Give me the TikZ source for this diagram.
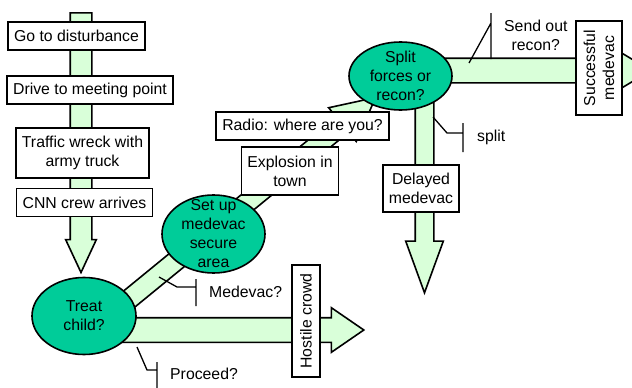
\documentclass[tikz,border=0pt]{standalone}
\usepackage{fontspec}
\setmainfont{Liberation Sans}
\usetikzlibrary{shapes.geometric,shapes.arrows,calc}
\definecolor{medgreen}{HTML}{00CC99}
\definecolor{pathgreen}{HTML}{D9FFD9}
\pgfdeclarelayer{background}
\pgfsetlayers{background,main}
% a fat arrow from one named point to another
\newcommand{\fatarrow}[3][]{%
  \path let \p1=($(#3)-(#2)$), \n1={atan2(\y1,\x1)}, \n2={veclen(\x1,\y1)} in
    (#2) node[flow,#1,minimum height=\n2,rotate=\n1,anchor=tail] {};}

\begin{document}
\begin{tikzpicture}[x=1pt,y=-1pt,
font=\fontsize{15.8pt}{19pt}\selectfont,
event/.style={
	% The shape:
	rectangle,
	% The size:
	minimum height=28pt,inner xsep=6pt,inner ysep=6pt,
	% The border:
	line width=1.6pt,draw=black,
	% The filling:
	fill=white,
	align=center},
decision/.style={
	% The shape:
	ellipse,inner sep=0pt,
	% The border:
	line width=1.6pt,draw=black,
	% The filling:
	fill=medgreen},
flow/.style={
	% the shaft is as wide as twice the inner ysep
	single arrow,inner xsep=0pt,
	line width=1.6pt,draw=black,
	fill=pathgreen},
note/.style={inner sep=0pt,anchor=west,align=center},
callout/.style={line width=1.3pt}]
\useasboundingbox (0,0) rectangle (632,388);

%Begin main column
\node (A) [event] at (76.5,36) {Go to disturbance};
\node (B) [event] at (90,90) {Drive to meeting point};
\node (C) [event,minimum height=50pt] at (82.5,153) {Traffic wreck with\\army truck};
\node (D) [event] at (84.5,202.5) {CNN crew arrives};
\node (E) [decision,minimum width=104pt,minimum height=77pt,
	label={[align=center]center:Treat\\child?}] at (84,316) {};

% the way up to the split
\node (F) [decision,minimum width=103pt,minimum height=78pt,
	label={[align=center]center:Set up\\medevac\\secure\\area}] at (213.5,234) {};
\node (G) [event,minimum height=48pt] at (290,171) {Explosion in\\town};
\node (H) [event] at (302.5,126) {Radio: where are you?};
\node (I) [decision,minimum width=103pt,minimum height=68pt,
	label={[align=center]center:Split\\forces or\\recon?}] at (400.5,76) {};

% the outcomes
\node (J) [event,rotate=90,minimum width=94pt,minimum height=46pt] at (599,68) {Successful\\medevac};
\node (K) [event,minimum height=47pt] at (421,188.5) {Delayed\\medevac};
\node (L) [event,rotate=90,minimum width=112pt] at (306,321) {Hostile crowd};

% ends of the fat arrows
\coordinate (1) at (81,12);
\coordinate (2) at ($(1 |- E.north)+(0,-5)$);
\coordinate (3) at ($(E.center)+(0,14)$);
\coordinate (4) at (363,330);
\coordinate (5) at ($(E.center)+(22,2)$);
\coordinate (6) at ($(I.center)+(-25.5,22)$);
\coordinate (7) at ($(I.center)+(0,-5.5)$);
\coordinate (8) at (650,70.5);
\coordinate (9) at ($(I.center)+(24,0)$);
\coordinate (10) at (424.5,292);

\begin{pgfonlayer}{background}
\fatarrow[inner ysep=10pt,single arrow head extend=4.5pt,single arrow tip angle=50]{1}{2}
\fatarrow[inner ysep=11.5pt,single arrow head extend=10pt,single arrow tip angle=69]{3}{4}
\fatarrow[inner ysep=9pt,single arrow head extend=12pt,single arrow tip angle=54]{5}{6}
\fatarrow[inner ysep=11.5pt,single arrow head extend=5.5pt,single arrow tip angle=62]{7}{8}
\fatarrow[inner ysep=8.5pt,single arrow head extend=9.5pt,single arrow tip angle=40]{9}{10}
\end{pgfonlayer}

% Now come the questions...
\node (a) [note] at (209,292) {Medevac?};
\node (b) [note] at (170,374) {Proceed?};
\node (c) [note] at (477,137) {split};
\node (d) [note] at (504,35) {Send out\\recon?};

\draw[callout] ($(a.west)+(-13,-13)$) -- ++(0,27) ($(a.west)+(-13,-5)$) -- ++(-19,0) -- ++(-18,-10);
\draw[callout] ($(b.west)+(-13,-12)$) -- ++(0,30) ($(b.west)+(-13,-4)$) -- ++(-10,0) -- ++(-10,-23);
\draw[callout] ($(c.west)+(-14,-14)$) -- ++(0,29) ($(c.west)+(-14,-4)$) -- ++(-16,0) -- ++(-14,-16);
\draw[callout] ($(d.west)+(-13,-22)$) -- ++(0,46) ($(d.west)+(-13,-12)$) -- ++(-22,40);

\end{tikzpicture}
\end{document}
